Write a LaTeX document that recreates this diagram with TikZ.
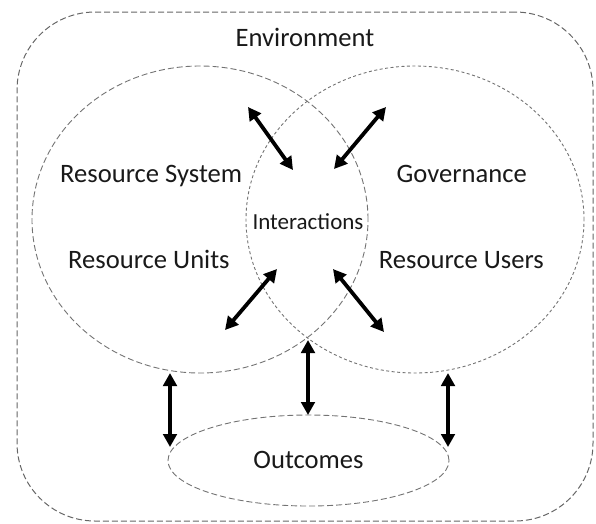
\documentclass[tikz,border=0pt]{standalone}
\usepackage{fontspec}
\setmainfont{Carlito}
\usetikzlibrary{arrows.meta,shapes.geometric}
\begin{document}
\begin{tikzpicture}[x=1pt,y=-1pt,
  lbl/.style={font=\fontsize{26.6}{30}\selectfont, inner sep=0pt, text=black!90},
  smalllbl/.style={font=\fontsize{23}{26}\selectfont, inner sep=0pt, text=black!90},
  dbl/.style={line width=3.8pt, {Triangle[length=13pt,width=13.5pt]}-{Triangle[length=13pt,width=13.5pt]}},
  region/.style={draw=black!55, line width=0.9pt, inner sep=0pt},
  longdash/.style={dash pattern=on 6pt off 3pt},
  shortdash/.style={dash pattern=on 3pt off 2.5pt}]
\useasboundingbox (0,0) rectangle (596,523);
% environment
\node[region, draw=black!60, line width=1pt, longdash, rounded corners=78pt, minimum width=576pt, minimum height=509pt] (env) at (305,266.5) {};
% circles
\node[region, ellipse, longdash, minimum width=336pt, minimum height=307pt] (left) at (200,219.5) {};
\node[region, ellipse, shortdash, minimum width=338pt, minimum height=307pt] (right) at (415,219.5) {};
\node[region, ellipse, longdash, minimum width=281pt, minimum height=91pt] (out) at (308.5,460.5) {};
% labels
\node[lbl, anchor=base] (envl) at (305,46) {Environment};
\node[lbl, anchor=base west] (rs) at (60,182) {Resource System};
\node[lbl, anchor=base west] (ru) at (68,268) {Resource Units};
\node[lbl, anchor=base east] (gov) at (527,182) {Governance};
\node[lbl, anchor=base east] (rus) at (544,268) {Resource Users};
\node[smalllbl, anchor=base] (int) at (308,229) {Interactions};
\node[lbl, anchor=base] (outl) at (308.5,468) {Outcomes};
% arrow end points
\coordinate (a1) at (248,107); \coordinate (b1) at (293,170);
\coordinate (a2) at (386,107); \coordinate (b2) at (334,169);
\coordinate (a3) at (277,269); \coordinate (b3) at (225,330);
\coordinate (a4) at (333,269); \coordinate (b4) at (384,332);
\coordinate (a5) at (308,340); \coordinate (b5) at (308,415);
\coordinate (a6) at (170,373); \coordinate (b6) at (170,447);
\coordinate (a7) at (448,373); \coordinate (b7) at (448,447);
\foreach \i in {1,...,7} \draw[dbl] (a\i) -- (b\i);
\end{tikzpicture}
\end{document}
